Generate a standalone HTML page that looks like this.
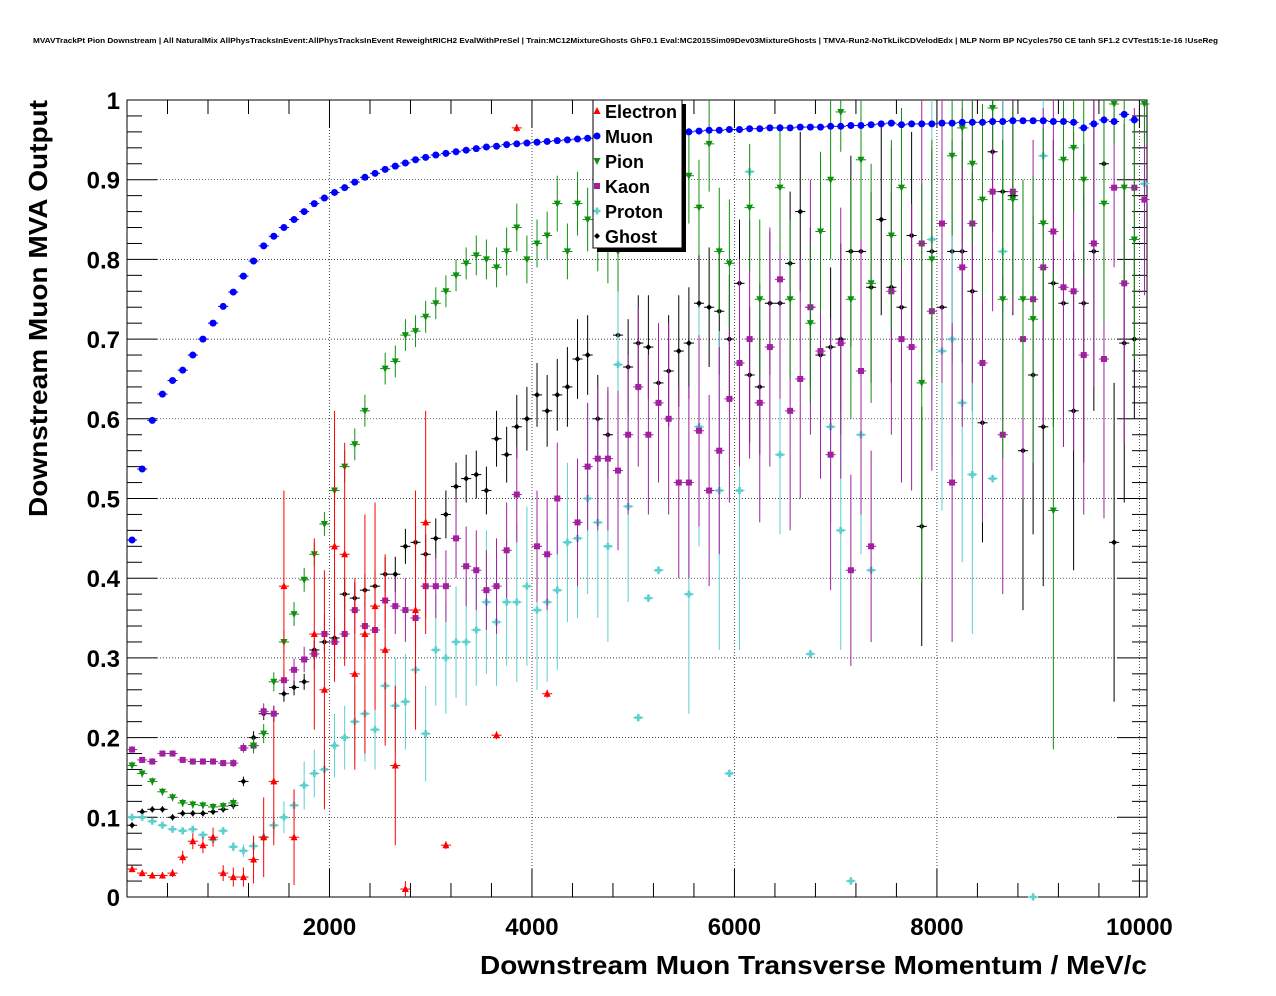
<!DOCTYPE html>
<html><head><meta charset="utf-8">
<style>
html,body{margin:0;padding:0;background:#fff;}
svg{display:block;font-family:"Liberation Sans",Arial,sans-serif;}
</style></head>
<body>
<svg id="chart" width="1276" height="996">
<text x="33" y="43" font-size="7" font-weight="bold" textLength="1185" lengthAdjust="spacingAndGlyphs">MVAVTrackPt Pion Downstream | All NaturalMix AllPhysTracksInEvent:AllPhysTracksInEvent ReweightRICH2 EvalWithPreSel | Train:MC12MixtureGhosts GhF0.1 Eval:MC2015Sim09Dev03MixtureGhosts | TMVA-Run2-NoTkLikCDVelodEdx | MLP Norm BP NCycles750 CE tanh SF1.2 CVTest15:1e-16 !UseReg</text>
<g id="grid"></g>
<g id="axes"></g>
<g id="marks"></g>
<text x="480" y="974" font-size="26" font-weight="bold" textLength="667" lengthAdjust="spacingAndGlyphs">Downstream Muon Transverse Momentum / MeV/c</text>
<text transform="translate(47,517) rotate(-90)" font-size="26" font-weight="bold" textLength="417" lengthAdjust="spacingAndGlyphs">Downstream Muon MVA Output</text>
<g id="legend"></g>
</svg>
<script>
const xTicks=[2000,4000,6000,8000,10000];
const yTicks=[0,0.1,0.2,0.3,0.4,0.5,0.6,0.7,0.8,0.9,1];
const yTickLabels=["0","0.1","0.2","0.3","0.4","0.5","0.6","0.7","0.8","0.9","1"];
const binWidth=100;
const muonBin=[0,1,2,3,4,5,6,7,8,9,10,11,12,13,14,15,16,17,18,19,20,21,22,23,24,25,26,27,28,29,30,31,32,33,34,35,36,37,38,39,40,41,42,43,44,45,46,47,48,49,50,51,52,53,54,55,56,57,58,59,60,61,62,63,64,65,66,67,68,69,70,71,72,73,74,75,76,77,78,79,80,81,82,83,84,85,86,87,88,89,90,91,92,93,94,95,96,97,98,99];
const muonVal=[0.448,0.537,0.598,0.631,0.648,0.661,0.680,0.700,0.720,0.741,0.759,0.779,0.798,0.817,0.829,0.840,0.850,0.860,0.870,0.877,0.884,0.890,0.897,0.903,0.908,0.913,0.917,0.921,0.925,0.928,0.931,0.933,0.935,0.937,0.939,0.941,0.942,0.944,0.945,0.946,0.947,0.948,0.949,0.950,0.951,0.952,0.953,0.954,0.955,0.955,0.956,0.957,0.957,0.958,0.959,0.960,0.961,0.962,0.962,0.963,0.963,0.964,0.964,0.965,0.965,0.965,0.966,0.966,0.966,0.967,0.967,0.968,0.968,0.969,0.970,0.971,0.969,0.970,0.970,0.970,0.971,0.971,0.972,0.972,0.972,0.973,0.973,0.974,0.974,0.974,0.974,0.973,0.973,0.972,0.965,0.970,0.975,0.973,0.982,0.975];
const electronBin=[0,1,2,3,4,5,6,7,8,9,10,11,12,13,14,15,16,18,19,20,21,22,23,24,25,26,27,28,29,31,36,38,41];
const electronVal=[0.035,0.03,0.027,0.027,0.03,0.05,0.07,0.065,0.075,0.03,0.025,0.025,0.047,0.075,0.145,0.39,0.075,0.33,0.26,0.44,0.43,0.28,0.33,0.365,0.31,0.165,0.01,0.36,0.47,0.065,0.203,0.965,0.255];
const electronErr=[0.004,0.004,0.004,0.004,0.005,0.008,0.01,0.01,0.012,0.01,0.012,0.012,0.03,0.05,0.08,0.12,0.06,0.12,0.15,0.17,0.14,0.12,0.15,0.13,0.12,0.1,0.01,0.15,0.14,0.005,0.005,0.005,0.005];
const pionBin=[0,1,2,3,4,5,6,7,8,9,10,12,13,14,15,16,17,18,19,20,21,22,23,25,26,27,28,29,30,31,32,33,34,35,36,37,38,39,40,41,42,43,44,45,46,47,48,55,56,57,58,59,61,62,64,65,67,68,69,70,71,72,73,75,76,78,79,81,82,83,84,85,86,87,88,89,90,91,92,93,94,96,97,98,99,100];
const pionVal=[0.165,0.155,0.145,0.132,0.125,0.118,0.116,0.115,0.113,0.114,0.118,0.19,0.205,0.27,0.32,0.355,0.398,0.43,0.468,0.51,0.54,0.568,0.61,0.663,0.672,0.705,0.71,0.728,0.745,0.76,0.78,0.795,0.805,0.80,0.79,0.81,0.84,0.80,0.82,0.83,0.87,0.81,0.87,0.85,0.83,0.82,0.81,0.905,0.865,0.945,0.81,0.795,0.865,0.75,0.89,0.75,0.72,0.835,0.90,0.985,0.75,0.925,0.77,0.83,0.89,0.645,0.80,0.93,0.965,0.92,0.875,0.99,0.75,0.875,0.75,0.725,0.845,0.485,0.925,0.94,0.90,0.87,0.995,0.89,0.825,0.995];
const pionErr=[0.005,0.005,0.005,0.005,0.005,0.005,0.005,0.005,0.005,0.005,0.006,0.01,0.012,0.012,0.015,0.015,0.015,0.015,0.015,0.018,0.02,0.02,0.02,0.02,0.02,0.02,0.02,0.02,0.02,0.02,0.02,0.02,0.025,0.025,0.025,0.03,0.03,0.03,0.03,0.03,0.035,0.035,0.04,0.04,0.045,0.05,0.05,0.06,0.06,0.06,0.08,0.08,0.08,0.1,0.08,0.1,0.1,0.1,0.1,0.05,0.15,0.1,0.15,0.12,0.1,0.25,0.15,0.1,0.05,0.1,0.12,0.05,0.2,0.12,0.15,0.18,0.12,0.3,0.1,0.08,0.12,0.15,0.05,0.12,0.15,0.05];
const kaonBin=[0,1,2,3,4,5,6,7,8,9,10,11,12,13,14,15,16,17,18,19,20,21,22,23,24,25,26,27,28,29,30,31,32,33,34,35,36,37,38,40,41,42,44,45,46,47,48,49,50,51,52,53,54,55,56,57,58,59,60,61,62,63,64,65,66,67,68,69,70,71,72,73,75,76,77,78,79,80,81,82,83,84,85,86,87,88,89,90,91,92,93,94,95,96,97,98,99,100];
const kaonVal=[0.185,0.172,0.17,0.18,0.18,0.172,0.17,0.17,0.17,0.168,0.168,0.187,0.19,0.233,0.23,0.272,0.285,0.298,0.305,0.33,0.32,0.33,0.36,0.34,0.335,0.372,0.365,0.36,0.35,0.39,0.39,0.39,0.45,0.415,0.41,0.385,0.39,0.435,0.505,0.44,0.43,0.50,0.47,0.54,0.55,0.55,0.535,0.58,0.64,0.58,0.62,0.60,0.52,0.52,0.585,0.51,0.56,0.625,0.67,0.70,0.62,0.69,0.775,0.61,0.65,0.74,0.685,0.555,0.695,0.41,0.66,0.44,0.76,0.70,0.69,0.82,0.735,0.845,0.52,0.79,0.845,0.67,0.885,0.58,0.885,0.70,0.75,0.79,0.835,0.765,0.76,0.68,0.82,0.675,0.89,0.77,0.89,0.875];
const kaonErr=[0.004,0.004,0.004,0.004,0.004,0.004,0.004,0.004,0.004,0.004,0.005,0.006,0.008,0.01,0.01,0.012,0.014,0.016,0.02,0.025,0.03,0.03,0.03,0.03,0.035,0.035,0.035,0.04,0.04,0.04,0.04,0.045,0.05,0.05,0.05,0.05,0.06,0.06,0.06,0.07,0.07,0.07,0.08,0.08,0.09,0.09,0.1,0.1,0.1,0.1,0.1,0.12,0.12,0.12,0.12,0.12,0.13,0.13,0.13,0.15,0.15,0.15,0.15,0.15,0.15,0.16,0.16,0.17,0.17,0.12,0.18,0.12,0.18,0.18,0.18,0.18,0.2,0.2,0.2,0.2,0.2,0.2,0.15,0.2,0.15,0.2,0.2,0.2,0.2,0.2,0.2,0.2,0.18,0.2,0.1,0.2,0.1,0.12];
const protonBin=[0,1,2,3,4,5,6,7,8,9,10,11,12,13,14,15,16,17,18,19,20,21,22,23,24,25,26,27,28,29,30,31,32,33,34,35,36,37,38,39,40,41,42,43,44,45,46,47,48,49,50,51,52,55,56,58,59,60,61,64,67,69,70,71,72,73,79,80,81,82,83,85,86,89,90,100];
const protonVal=[0.10,0.10,0.095,0.09,0.085,0.083,0.085,0.078,0.072,0.083,0.063,0.058,0.064,0.075,0.09,0.10,0.115,0.14,0.155,0.16,0.19,0.20,0.22,0.23,0.21,0.265,0.24,0.245,0.285,0.205,0.31,0.30,0.32,0.32,0.335,0.37,0.345,0.37,0.37,0.39,0.36,0.37,0.385,0.445,0.45,0.50,0.47,0.44,0.668,0.49,0.225,0.375,0.41,0.38,0.59,0.51,0.155,0.51,0.91,0.555,0.305,0.59,0.46,0.02,0.58,0.41,0.825,0.685,0.70,0.62,0.53,0.525,0.81,0.0,0.93,0.895];
const protonErr=[0.004,0.004,0.004,0.004,0.004,0.004,0.004,0.004,0.005,0.005,0.006,0.008,0.01,0.012,0.015,0.02,0.02,0.03,0.03,0.03,0.04,0.04,0.05,0.06,0.05,0.07,0.06,0.06,0.06,0.06,0.07,0.07,0.07,0.08,0.07,0.09,0.08,0.08,0.1,0.1,0.1,0.1,0.1,0.1,0.1,0.12,0.12,0.12,0.1,0.12,0.005,0.005,0.005,0.15,0.15,0.2,0.005,0.2,0.005,0.1,0.005,0.12,0.15,0.005,0.15,0.005,0.2,0.2,0.15,0.2,0.2,0.005,0.2,0.005,0.1,0.1];
const ghostBin=[0,1,2,3,4,5,6,7,8,9,10,11,12,13,14,15,16,17,18,19,20,21,22,23,24,25,26,27,28,29,30,31,32,33,34,35,36,37,38,39,40,41,42,43,44,45,46,47,48,49,50,51,52,53,54,55,56,57,58,59,60,61,62,63,64,65,66,67,68,69,70,71,72,73,74,75,76,77,78,79,80,81,82,83,84,85,86,87,88,89,90,91,92,93,94,95,96,97,98,99];
const ghostVal=[0.09,0.107,0.11,0.11,0.10,0.105,0.105,0.105,0.107,0.11,0.115,0.145,0.2,0.23,0.23,0.255,0.263,0.27,0.31,0.32,0.325,0.38,0.375,0.385,0.39,0.405,0.405,0.44,0.445,0.43,0.45,0.48,0.515,0.525,0.53,0.51,0.575,0.555,0.59,0.60,0.63,0.61,0.63,0.64,0.675,0.68,0.60,0.58,0.705,0.665,0.695,0.69,0.645,0.66,0.685,0.695,0.745,0.74,0.735,0.70,0.77,0.655,0.64,0.745,0.745,0.795,0.86,0.74,0.68,0.69,0.70,0.81,0.81,0.765,0.85,0.765,0.74,0.83,0.465,0.81,0.74,0.81,0.81,0.76,0.595,0.935,0.885,0.88,0.56,0.655,0.59,0.77,0.745,0.61,0.745,0.81,0.92,0.445,0.695,0.70];
const ghostErr=[0.004,0.004,0.004,0.004,0.004,0.004,0.004,0.004,0.004,0.004,0.005,0.006,0.008,0.008,0.01,0.01,0.01,0.01,0.012,0.012,0.015,0.02,0.02,0.02,0.02,0.022,0.022,0.022,0.025,0.025,0.025,0.03,0.03,0.03,0.03,0.03,0.035,0.035,0.04,0.04,0.04,0.045,0.045,0.05,0.05,0.05,0.055,0.055,0.06,0.06,0.06,0.065,0.065,0.07,0.07,0.07,0.075,0.075,0.08,0.08,0.08,0.085,0.085,0.09,0.09,0.09,0.1,0.1,0.1,0.1,0.12,0.12,0.12,0.12,0.12,0.12,0.13,0.13,0.15,0.13,0.14,0.14,0.14,0.15,0.15,0.1,0.15,0.15,0.2,0.2,0.2,0.18,0.18,0.2,0.2,0.2,0.15,0.2,0.2,0.1];

const L=127,R=1147,T=100,B=897,XMAX=10075;
const NS="http://www.w3.org/2000/svg";
function xs(v){return L+(v/XMAX)*(R-L);}
function ys(v){return B-v*(B-T);}
function mk(tag,attrs,parent){const e=document.createElementNS(NS,tag);for(const k in attrs)e.setAttribute(k,attrs[k]);parent.appendChild(e);return e;}
const grid=document.getElementById('grid'),axes=document.getElementById('axes'),marks=document.getElementById('marks'),legend=document.getElementById('legend');
xTicks.forEach(t=>{const l=mk('line',{x1:xs(t),x2:xs(t),y1:T,y2:B,stroke:'#000','stroke-width':0.7,'stroke-dasharray':'1,2'},grid);

});
yTicks.forEach(t=>{const l=mk('line',{x1:L,x2:R,y1:ys(t),y2:ys(t),stroke:'#000','stroke-width':0.7,'stroke-dasharray':'1,2'},grid);

});
mk('rect',{x:L,y:T,width:R-L,height:B-T,fill:'none',stroke:'#000','stroke-width':1},axes);
for(let v=0;v<=XMAX;v+=400){const big=v%2000===0;mk('line',{x1:xs(v),x2:xs(v),y1:B,y2:B-(big?28:14),stroke:'#000'},axes);mk('line',{x1:xs(v),x2:xs(v),y1:T,y2:T+(big?28:14),stroke:'#000'},axes);}
for(let i=0;i<=50;i++){const v=i*0.02;const big=i%5===0;mk('line',{x1:L,x2:L+(big?30:15),y1:ys(v),y2:ys(v),stroke:'#000'},axes);mk('line',{x1:R,x2:R-(big?30:15),y1:ys(v),y2:ys(v),stroke:'#000'},axes);}
xTicks.forEach(t=>{const e=mk('text',{x:xs(t),y:935,'font-size':24,'font-weight':'bold','text-anchor':'middle'},axes);e.textContent=t;

});
yTicks.forEach((t,i)=>{const e=mk('text',{x:120,y:ys(t)+9,'font-size':24,'font-weight':'bold','text-anchor':'end'},axes);e.textContent=yTickLabels[i];

});
function marker(shape,color,cx,cy,g){
 if(shape==='tri')mk('polygon',{points:`${cx},${cy-4} ${cx-3.5},${cy+3} ${cx+3.5},${cy+3}`,fill:color},g);
 else if(shape==='circ')mk('circle',{cx:cx,cy:cy,r:3.5,fill:color},g);
 else if(shape==='dtri')mk('polygon',{points:`${cx},${cy+4} ${cx-3.5},${cy-3} ${cx+3.5},${cy-3}`,fill:color},g);
 else if(shape==='sq')mk('rect',{x:cx-3,y:cy-3,width:6,height:6,fill:color},g);
 else if(shape==='cross')mk('path',{d:`M${cx-3.5},${cy-1.3}h2.2v-2.2h2.6v2.2h2.2v2.6h-2.2v2.2h-2.6v-2.2h-2.2z`,fill:color},g);
 else if(shape==='diam')mk('polygon',{points:`${cx},${cy-3} ${cx+3},${cy} ${cx},${cy+3} ${cx-3},${cy}`,fill:color},g);
}
function series(name,bins,vals,errs,color,shape){
 const g=mk('g',{},marks);
 
 
 bins.forEach((b,i)=>{const x=b*binWidth+binWidth/2;const cx=xs(x),cy=ys(vals[i]);
  const e=errs?errs[i]:0.003;
  mk('line',{x1:xs(x-binWidth/2),x2:xs(x+binWidth/2),y1:cy,y2:cy,stroke:color,'stroke-width':1},g);
  mk('line',{x1:cx,x2:cx,y1:ys(Math.min(1.0,vals[i]+e)),y2:ys(Math.max(0,vals[i]-e)),stroke:color,'stroke-width':1},g);
  marker(shape,color,cx,cy,g);});
}
series('ghost',ghostBin,ghostVal,ghostErr,'#000','diam');
series('proton',protonBin,protonVal,protonErr,'#5ccfcf','cross');
series('kaon',kaonBin,kaonVal,kaonErr,'#a020a0','sq');
series('pion',pionBin,pionVal,pionErr,'#109010','dtri');
series('electron',electronBin,electronVal,electronErr,'#ff0000','tri');
series('muon',muonBin,muonVal,null,'#0000ff','circ');
mk('rect',{x:597,y:104,width:89,height:148,fill:'#000'},legend);
mk('rect',{x:593,y:100,width:89,height:148,fill:'#fff',stroke:'#000','stroke-width':1},legend);
const legNames=['Electron','Muon','Pion','Kaon','Proton','Ghost'];
const legColors=['#ff0000','#0000ff','#109010','#a020a0','#5ccfcf','#000'];
const legShapes=['tri','circ','dtri','sq','cross','diam'];
legNames.forEach((n,i)=>{const y=111+i*25;const g=mk('g',{},legend);
 
 
 marker(legShapes[i],legColors[i],597,y,g);
 const t=mk('text',{x:605,y:y+7,'font-size':18,'font-weight':'bold'},g);t.textContent=n;});
</script>
</body></html>
